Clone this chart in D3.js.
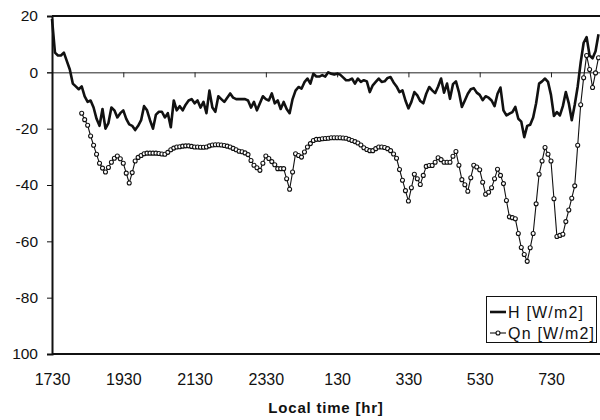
<!DOCTYPE html>
<html>
<head>
<meta charset="utf-8">
<script src="https://cdn.jsdelivr.net/npm/d3@7/dist/d3.min.js"></script>
<style>
  html, body { margin: 0; padding: 0; background: #fff; }
  svg { display: block; }
  text { font-family: Arial, "Liberation Sans", Helvetica, sans-serif; fill: #111; }
</style>
</head>
<body>
<svg id="chart" width="600" height="420"></svg>
<script>
// 5-minute records from 17:30 local time; category labels every 2 hours
const tickLabels = ["1730", "1930", "2130", "2330", "130", "330", "530", "730"];
const tickEvery = 24;

const yTicks = [20, 0, -20, -40, -60, -80, -100];
const yTickLabels = ["20", "0", "-20", "-40", "-60", "-80", "100"];

// Sensible heat flux H [W/m2]
const H = [
  19, 7, 6, 6, 7, 4, 1, -4, -5, -6,
  -5, -8.5, -10.5, -10, -12.5, -16.5, -19, -13, -20, -18,
  -12.5, -13.5, -16, -14.5, -13.5, -16.5, -18.5, -19, -20.5, -19,
  -17, -12, -13.5, -17, -20, -15, -14, -14, -16, -14.5,
  -19.5, -10, -13.5, -12, -13.5, -11.5, -10, -9.5, -11, -10,
  -12.5, -10.5, -14.5, -6.5, -12.5, -14, -8.5, -9.5, -10.5, -9,
  -7.5, -9, -9.5, -9.5, -9.5, -9.5, -10, -12.5, -10.5, -13.5,
  -11, -8.5, -9.5, -10, -7.5, -11, -10, -13, -10.5, -13,
  -14.5, -9.5, -6.5, -5.2, -5.8, -3.5, -2.2, -4, -0.5, -1.5,
  -1.5, -1, -1.5, 0, -0.5, -0.8, -0.5, -0.8, -1.8, -2.8,
  -2.8, -2.2, -4, -2.2, -3.4, -2.8, -3.2, -7, -4.6, -3.4,
  -2.2, -3.4, -3.2, -2, -1.7, -3.6, -5, -7, -6.4, -10,
  -12.8, -10.5, -7, -8.2, -10.2, -11, -7.6, -5.2, -6.4, -7.4,
  -5, -2.2, -7.2, -4, -9.4, -4.2, -3.2, -7, -12.3, -10,
  -7.6, -6, -5.6, -7.2, -8, -9.9, -8.5, -9, -10, -12,
  -7.6, -5.4, -13.5, -15.3, -14.7, -14.1, -12.3, -16.5, -17.5, -23,
  -19, -18.6, -16, -11, -4, -3.2, -2.2, -3.4, -8, -15.5,
  -14.1, -15.3, -12, -7, -11, -17, -11.5, -5, 3.5, 10.5,
  12.5, 6, 5, 7.5, 13.5
];

// Net radiation Qn [W/m2]; no record for the first ten intervals
const Qn = [
  null, null, null, null, null, null, null, null, null, null,
  -14.5, -16.8, -18.8, -22.6, -25.9, -29.1, -32.3, -34, -35.4, -33.8,
  -31.9, -30.5, -29.7, -30.7, -32.3, -35.8, -39.3, -35.6, -31.5, -30.2,
  -29.5, -28.9, -28.7, -28.7, -28.7, -28.7, -28.8, -29, -29.1, -28.4,
  -27.5, -26.9, -26.5, -26.4, -26.2, -26.1, -26.1, -26.3, -26.5, -26.5,
  -26.6, -26.6, -26.5, -26.1, -25.8, -25.7, -25.7, -25.8, -26, -26.2,
  -26.5, -27, -27.5, -28, -28.2, -28.6, -29.2, -31.3, -33, -33.9,
  -34.8, -32.3, -29.7, -30.6, -31.7, -32.8, -34.2, -34.2, -34.2, -37.8,
  -41.5, -35.4, -28.9, -29.5, -30.1, -28.3, -26.5, -25.3, -24.2, -23.8,
  -23.8, -23.6, -23.5, -23.4, -23.2, -23.2, -23.2, -23.2, -23.3, -23.4,
  -23.8, -24.2, -24.6, -25.1, -25.8, -26.8, -27.4, -27.8, -27.8, -27.1,
  -26.5, -26.5, -26.7, -27.1, -27.8, -29, -30.5, -34.5, -38.3, -42,
  -45.7, -41, -36.2, -37.8, -39.8, -36.6, -33.4, -33.1, -33.1, -31.9,
  -30.3, -31, -31.9, -31.9, -31.9, -29.8, -28.1, -33, -38.1, -39.9,
  -42.2, -37.4, -33, -33.6, -34.6, -39, -43.3, -42.6, -41, -37.8,
  -34.4, -36.6, -39.5, -45.5, -51.3, -51.6, -52, -57.2, -62.2, -64.7,
  -67.1, -62.3, -57.2, -46.7, -36.2, -31.5, -26.7, -29.1, -31.5, -44.9,
  -58.3, -57.9, -57.5, -53, -48.9, -44.7, -40.3, -25.9, -11.5, -1.9,
  6, 1, -5.4, -0.2, 5.2
];

const seriesNames = ["H [W/m2]", "Qn [W/m2]"];
const xTitle = "Local time [hr]";

const svg = d3.select("#chart");
const plotLeft = 52, plotRight = 598.5, plotTop = 16, plotBottom = 354;

const x = d3.scaleLinear().domain([0, H.length - 1]).range([plotLeft, plotRight]);
const y = d3.scaleLinear().domain([-100, 20]).range([plotBottom, plotTop]);

const tickIdx = tickLabels.map((_, i) => i * tickEvery);

// Frame: top and bottom rules
svg.append("line").attr("x1", plotLeft).attr("x2", 600).attr("y1", y(20)).attr("y2", y(20))
  .attr("stroke", "#111").attr("stroke-width", 2);
svg.append("line").attr("x1", plotLeft).attr("x2", 600).attr("y1", y(-100)).attr("y2", y(-100))
  .attr("stroke", "#111").attr("stroke-width", 2);

// Category axis crossing at zero (ticks only)
const zeroAxis = svg.append("g")
  .attr("transform", `translate(0,${y(0)})`)
  .call(d3.axisBottom(x).tickValues(tickIdx).tickSize(5).tickSizeOuter(0).tickFormat(""));
zeroAxis.select(".domain").attr("d", `M${plotLeft - 5},0.5H600`).attr("stroke", "#222").attr("stroke-width", 1);
zeroAxis.selectAll(".tick line").attr("stroke", "#222");

// Category labels along the bottom
const labelAxis = svg.append("g")
  .attr("transform", `translate(0,${y(-100)})`)
  .call(d3.axisBottom(x).tickValues(tickIdx).tickSize(0).tickPadding(20)
    .tickFormat((d, i) => tickLabels[i]));
labelAxis.select(".domain").remove();
labelAxis.selectAll("text").attr("font-size", 16).attr("fill", "#111")
  .attr("font-family", "Arial, 'Liberation Sans', sans-serif");

// Value axis
const yAxis = svg.append("g")
  .attr("transform", `translate(${plotLeft},0)`)
  .call(d3.axisLeft(y).tickValues(yTicks).tickSize(5).tickPadding(9)
    .tickFormat((d, i) => yTickLabels[i]));
yAxis.select(".domain").attr("stroke", "#111").attr("stroke-width", 2);
yAxis.selectAll(".tick line").attr("stroke", "#111");
yAxis.selectAll("text").attr("font-size", 15.5).attr("fill", "#111")
  .attr("font-family", "Arial, 'Liberation Sans', sans-serif");

// Series
const line = d3.line()
  .defined(d => d != null)
  .x((d, i) => x(i))
  .y(d => y(d));

svg.append("path").datum(Qn)
  .attr("d", line).attr("fill", "none")
  .attr("stroke", "#111").attr("stroke-width", 1.1);

svg.append("g").selectAll("circle")
  .data(Qn.map((v, i) => ({ v, i })).filter(d => d.v != null))
  .join("circle")
  .attr("cx", d => x(d.i)).attr("cy", d => y(d.v)).attr("r", 2)
  .attr("fill", "#fff").attr("stroke", "#111").attr("stroke-width", 1.1);

svg.append("path").datum(H)
  .attr("d", line).attr("fill", "none")
  .attr("stroke", "#111").attr("stroke-width", 2.6)
  .attr("stroke-linejoin", "round");

// Axis title
svg.append("text")
  .attr("x", 326).attr("y", 413)
  .attr("text-anchor", "middle")
  .attr("font-size", 15).attr("font-weight", "bold")
  .attr("letter-spacing", 0.8)
  .text(xTitle);

// Legend
const lg = svg.append("g");
lg.append("rect").attr("x", 486.5).attr("y", 296.5).attr("width", 110).attr("height", 46)
  .attr("fill", "#fff").attr("stroke", "#111").attr("stroke-width", 1);
lg.append("line").attr("x1", 490).attr("x2", 506).attr("y1", 312).attr("y2", 312)
  .attr("stroke", "#111").attr("stroke-width", 2.6);
lg.append("line").attr("x1", 490).attr("x2", 506).attr("y1", 333).attr("y2", 333)
  .attr("stroke", "#111").attr("stroke-width", 1.1);
lg.append("circle").attr("cx", 498).attr("cy", 333).attr("r", 2)
  .attr("fill", "#fff").attr("stroke", "#111").attr("stroke-width", 1.1);
lg.selectAll("text.lab").data(seriesNames).join("text")
  .attr("class", "lab")
  .attr("x", 508).attr("y", (d, i) => 317.5 + i * 21)
  .attr("font-size", 16).attr("letter-spacing", 1.2)
  .text(d => d);
</script>
</body>
</html>
